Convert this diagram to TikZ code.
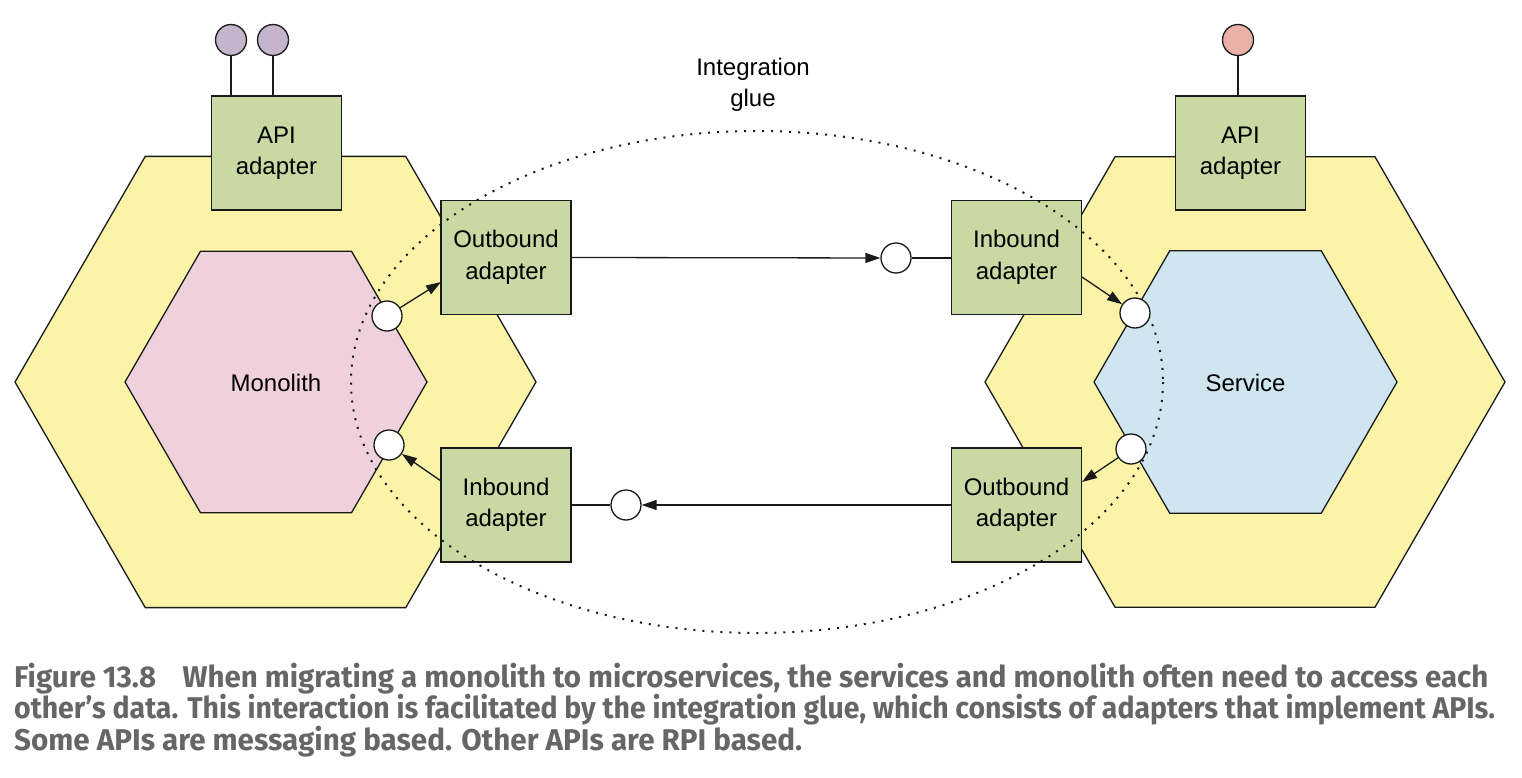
\documentclass[tikz,border=0pt]{standalone}
\usepackage{fontspec}
\usepackage{graphicx}
\setmainfont{Liberation Sans}
\newfontfamily\capfont{Fira Sans}
\usetikzlibrary{arrows.meta,calc}
\definecolor{hexyellow}{HTML}{FAF3A8}
\definecolor{monopink}{HTML}{EFD1DC}
\definecolor{servblue}{HTML}{CFE5EF}
\definecolor{adgreen}{HTML}{C8D9A4}
\definecolor{pinlilac}{HTML}{C4B4CC}
\definecolor{pinred}{HTML}{E9B0A8}
\definecolor{capgray}{HTML}{666666}
\definecolor{edge}{HTML}{1A1A1A}
\begin{document}
\begin{tikzpicture}[x=1pt,y=-1pt,
  lbl/.style={font=\fontsize{24}{31.5}\selectfont, align=center},
  adbox/.style={draw=edge, line width=1.3pt, fill=adgreen, minimum width=130pt, minimum height=114pt, inner sep=0pt, lbl},
  port/.style={circle, draw=edge, line width=1.3pt, fill=white, minimum size=30pt, inner sep=0pt},
  pin/.style={circle, draw=edge, line width=1.3pt, minimum size=31pt, inner sep=0pt},
  conn/.style={draw=edge, line width=1.3pt},
  arr/.style={conn, -{Triangle[length=15pt,width=10pt]}},
  hexline/.style={draw=edge, line width=1.3pt},
  glue/.style={draw=edge, line width=2pt, dash pattern=on 2pt off 7pt}
]
\useasboundingbox (0,0) rectangle (1522,778);
% hexagons
\draw[hexline, fill=hexyellow] (275.5,382) +(0:260.5) -- +(60:260.5) -- +(120:260.5) -- +(180:260.5) -- +(240:260.5) -- +(300:260.5) -- cycle;
\draw[hexline, fill=monopink] (276,382) +(0:151) -- +(60:151) -- +(120:151) -- +(180:151) -- +(240:151) -- +(300:151) -- cycle;
\draw[hexline, fill=hexyellow] (1245,382) +(0:260) -- +(60:260) -- +(120:260) -- +(180:260) -- +(240:260) -- +(300:260) -- cycle;
\draw[hexline, fill=servblue] (1245.5,382) +(0:151.5) -- +(60:151.5) -- +(120:151.5) -- +(180:151.5) -- +(240:151.5) -- +(300:151.5) -- cycle;
\node[lbl] (mono) at (276,383) {Monolith};
\node[lbl] (serv) at (1245.5,383) {Service};
% adapters
\node[adbox] (apiL) at (276.5,153) {API\\adapter};
\node[adbox] (obL) at (506,257.5) {Outbound\\adapter};
\node[adbox] (ibL) at (506,505) {Inbound\\adapter};
\node[adbox] (ibR) at (1016.5,257.5) {Inbound\\adapter};
\node[adbox] (obR) at (1016.5,505) {Outbound\\adapter};
\node[adbox] (apiR) at (1240.5,153) {API\\adapter};
% glue
\node[lbl] (gluelbl) at (753,85) {Integration\\glue};
\draw[glue] (757,382) ellipse [x radius=406, y radius=251];
% ports
\node[port] (pL1) at (387,316) {};
\node[port] (pL2) at (389,445) {};
\node[port] (pR1) at (1135,313) {};
\node[port] (pR2) at (1131,449) {};
\node[port] (pM1) at (896,258) {};
\node[port] (pM2) at (626,505) {};
\coordinate (aL1) at (441,282);
\coordinate (aL2) at (441,481);
\coordinate (aR1) at (1082,277);
\coordinate (aR2) at (1082,482);
\draw[arr] (pL1) -- (aL1);
\draw[arr] (aL2) -- (pL2);
\draw[arr] (aR1) -- (pR1);
\draw[arr] (pR2) -- (aR2);
\draw[arr] (obL.east) -- (pM1);
\draw[conn] (pM1) -- (ibR.west |- pM1);
\draw[arr] (obR.west) -- (pM2);
\draw[conn] (pM2) -- (ibL.east |- pM2);
% pins
\node[pin, fill=pinlilac] (pin1) at (231,40) {};
\node[pin, fill=pinlilac] (pin2) at (273,40) {};
\node[pin, fill=pinred] (pin3) at (1238,40) {};
\draw[conn] (pin1) -- (pin1 |- apiL.north);
\draw[conn] (pin2) -- (pin2 |- apiL.north);
\draw[conn] (pin3) -- (pin3 |- apiR.north);
% caption
\node[anchor=base west, inner sep=0pt, text=capgray] (cap1) at (14,687) {\resizebox{1474pt}{\height}{\capfont\bfseries\fontsize{30}{33}\selectfont Figure 13.8\hspace{0.9em}When migrating a monolith to microservices, the services and monolith often need to access each}};
\node[anchor=base west, inner sep=0pt, text=capgray] (cap2) at (14,718.5) {\resizebox{1481pt}{\height}{\capfont\bfseries\fontsize{30}{33}\selectfont other’s data. This interaction is facilitated by the integration glue, which consists of adapters that implement APIs.}};
\node[anchor=base west, inner sep=0pt, text=capgray] (cap3) at (14,750) {\resizebox{788pt}{\height}{\capfont\bfseries\fontsize{30}{33}\selectfont Some APIs are messaging based. Other APIs are RPI based.}};
\end{tikzpicture}
\end{document}
